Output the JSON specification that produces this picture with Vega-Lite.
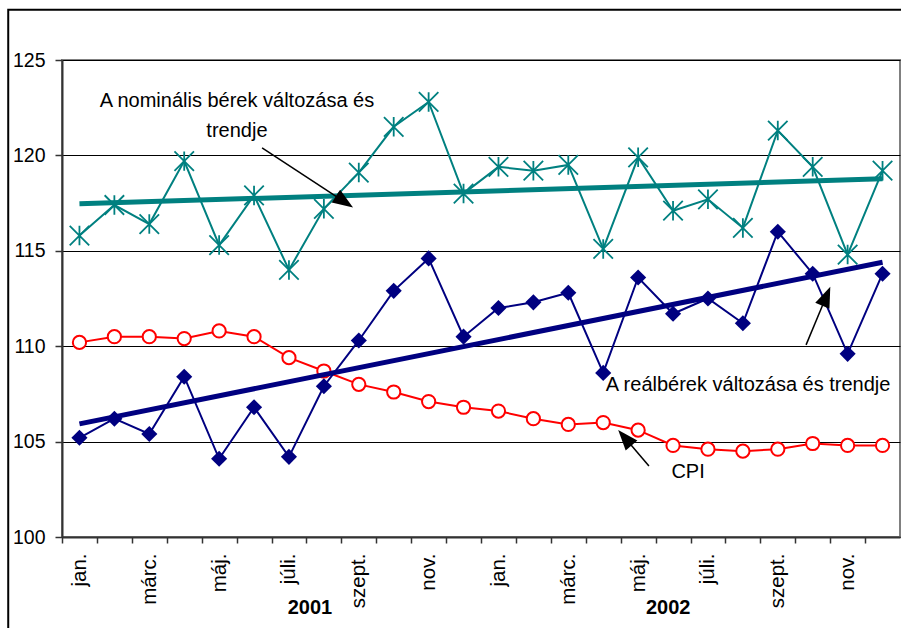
{
  "$schema": "https://vega.github.io/schema/vega-lite/v6.json",
  "width": 838,
  "height": 477,
  "autosize": "none",
  "padding": {"left": 62, "top": 60, "right": 1, "bottom": 91},
  "background": "white",
  "config": {
    "font": "Liberation Sans",
    "view": {"stroke": "#808080", "strokeWidth": 2},
    "axis": {"gridColor": "#000000", "gridWidth": 1, "labelColor": "#000000", "labelFont": "Liberation Sans", "labelFontSize": 19.5, "domainColor": "#333333", "domainWidth": 2, "tickColor": "#333333", "tickWidth": 1.5}
  },
  "datasets": {
    "series": [
      {"m": 1, "s": "nom", "v": 115.8}, {"m": 2, "s": "nom", "v": 117.4}, {"m": 3, "s": "nom", "v": 116.4}, {"m": 4, "s": "nom", "v": 119.7},
      {"m": 5, "s": "nom", "v": 115.3}, {"m": 6, "s": "nom", "v": 117.9}, {"m": 7, "s": "nom", "v": 114.0}, {"m": 8, "s": "nom", "v": 117.2},
      {"m": 9, "s": "nom", "v": 119.1}, {"m": 10, "s": "nom", "v": 121.5}, {"m": 11, "s": "nom", "v": 122.8}, {"m": 12, "s": "nom", "v": 118.0},
      {"m": 13, "s": "nom", "v": 119.4}, {"m": 14, "s": "nom", "v": 119.2}, {"m": 15, "s": "nom", "v": 119.5}, {"m": 16, "s": "nom", "v": 115.1},
      {"m": 17, "s": "nom", "v": 119.9}, {"m": 18, "s": "nom", "v": 117.1}, {"m": 19, "s": "nom", "v": 117.7}, {"m": 20, "s": "nom", "v": 116.2},
      {"m": 21, "s": "nom", "v": 121.3}, {"m": 22, "s": "nom", "v": 119.4}, {"m": 23, "s": "nom", "v": 114.8}, {"m": 24, "s": "nom", "v": 119.2},
      {"m": 1, "s": "real", "v": 105.2}, {"m": 2, "s": "real", "v": 106.2}, {"m": 3, "s": "real", "v": 105.4}, {"m": 4, "s": "real", "v": 108.4},
      {"m": 5, "s": "real", "v": 104.1}, {"m": 6, "s": "real", "v": 106.8}, {"m": 7, "s": "real", "v": 104.2}, {"m": 8, "s": "real", "v": 107.9},
      {"m": 9, "s": "real", "v": 110.3}, {"m": 10, "s": "real", "v": 112.9}, {"m": 11, "s": "real", "v": 114.6}, {"m": 12, "s": "real", "v": 110.5},
      {"m": 13, "s": "real", "v": 112.0}, {"m": 14, "s": "real", "v": 112.3}, {"m": 15, "s": "real", "v": 112.8}, {"m": 16, "s": "real", "v": 108.6},
      {"m": 17, "s": "real", "v": 113.6}, {"m": 18, "s": "real", "v": 111.7}, {"m": 19, "s": "real", "v": 112.5}, {"m": 20, "s": "real", "v": 111.2},
      {"m": 21, "s": "real", "v": 116.0}, {"m": 22, "s": "real", "v": 113.8}, {"m": 23, "s": "real", "v": 109.6}, {"m": 24, "s": "real", "v": 113.8},
      {"m": 1, "s": "cpi", "v": 110.2}, {"m": 2, "s": "cpi", "v": 110.5}, {"m": 3, "s": "cpi", "v": 110.5}, {"m": 4, "s": "cpi", "v": 110.4},
      {"m": 5, "s": "cpi", "v": 110.8}, {"m": 6, "s": "cpi", "v": 110.5}, {"m": 7, "s": "cpi", "v": 109.4}, {"m": 8, "s": "cpi", "v": 108.7},
      {"m": 9, "s": "cpi", "v": 108.0}, {"m": 10, "s": "cpi", "v": 107.6}, {"m": 11, "s": "cpi", "v": 107.1}, {"m": 12, "s": "cpi", "v": 106.8},
      {"m": 13, "s": "cpi", "v": 106.6}, {"m": 14, "s": "cpi", "v": 106.2}, {"m": 15, "s": "cpi", "v": 105.9}, {"m": 16, "s": "cpi", "v": 106.0},
      {"m": 17, "s": "cpi", "v": 105.6}, {"m": 18, "s": "cpi", "v": 104.8}, {"m": 19, "s": "cpi", "v": 104.6}, {"m": 20, "s": "cpi", "v": 104.5},
      {"m": 21, "s": "cpi", "v": 104.6}, {"m": 22, "s": "cpi", "v": 104.9}, {"m": 23, "s": "cpi", "v": 104.8}, {"m": 24, "s": "cpi", "v": 104.8}
    ],
    "trend": [
      {"m": 1, "s": "nom", "v": 117.46}, {"m": 24, "s": "nom", "v": 118.77},
      {"m": 1, "s": "real", "v": 105.93}, {"m": 24, "s": "real", "v": 114.4}
    ],
    "arrows": [
      {"a": "nom", "m": 6.23, "v": 120.4, "m2": 8.59, "v2": 117.57},
      {"a": "real", "m": 21.81, "v": 110.07, "m2": 22.39, "v2": 112.62},
      {"a": "cpi", "m": 17.31, "v": 103.72, "m2": 16.62, "v2": 105.2}
    ],
    "labels": [
      {"m": 5.51, "v": 122.86, "text": "A nominális bérek változása és"},
      {"m": 5.51, "v": 121.3, "text": "trendje"},
      {"m": 20.15, "v": 107.97, "text": "A reálbérek változása és trendje"},
      {"m": 18.43, "v": 103.41, "text": "CPI"}
    ],
    "years": [
      {"m": 7.6, "v": 96.28, "text": "2001"},
      {"m": 17.86, "v": 96.28, "text": "2002"}
    ],
    "frame": [
      {"m": -1.04, "v": 127.63, "m2": 30, "v2": 80}
    ]
  },
  "encoding": {
    "x": {
      "field": "m", "type": "quantitative",
      "scale": {"domain": [0.5, 24.5], "nice": false, "zero": false},
      "axis": {
        "title": null, "grid": false,
        "values": [0.5, 1.5, 2.5, 3.5, 4.5, 5.5, 6.5, 7.5, 8.5, 9.5, 10.5, 11.5, 12.5, 13.5, 14.5, 15.5, 16.5, 17.5, 18.5, 19.5, 20.5, 21.5, 22.5, 23.5],
        "labelExpr": "['jan.','','márc.','','máj.','','júli.','','szept.','','nov.',''][(datum.value - 0.5) % 12]",
        "labelAngle": -90, "labelOffset": 17.46, "tickSize": 6, "labelPadding": 10, "labelFontSize": 20.5,
        "labelFlush": false, "labelOverlap": false, "labelBound": false
      }
    },
    "y": {
      "field": "v", "type": "quantitative",
      "scale": {"domain": [100, 125], "nice": false, "zero": false},
      "axis": {"title": null, "values": [100, 105, 110, 115, 120, 125], "tickSize": 7, "labelPadding": 10, "grid": true}
    }
  },
  "layer": [
    {
      "data": {"name": "frame"},
      "mark": {"type": "rect", "fillOpacity": 0, "stroke": "#000000", "strokeWidth": 2},
      "encoding": {"x2": {"field": "m2"}, "y2": {"field": "v2"}}
    },
    {
      "data": {"name": "series"},
      "transform": [{"filter": "datum.s === 'cpi'"}],
      "mark": {"type": "line", "color": "#FF0000", "strokeWidth": 2}
    },
    {
      "data": {"name": "series"},
      "transform": [{"filter": "datum.s === 'cpi'"}],
      "mark": {"type": "point", "shape": "circle", "filled": true, "fill": "#FFFFFF", "fillOpacity": 1, "stroke": "#FF0000", "strokeWidth": 2, "size": 175, "opacity": 1}
    },
    {
      "data": {"name": "trend"},
      "transform": [{"filter": "datum.s === 'real'"}],
      "mark": {"type": "line", "color": "#000080", "strokeWidth": 5}
    },
    {
      "data": {"name": "series"},
      "transform": [{"filter": "datum.s === 'real'"}],
      "mark": {"type": "line", "color": "#000080", "strokeWidth": 2}
    },
    {
      "data": {"name": "series"},
      "transform": [{"filter": "datum.s === 'real'"}],
      "mark": {"type": "point", "shape": "diamond", "filled": true, "color": "#000080", "size": 260, "opacity": 1}
    },
    {
      "data": {"name": "series"},
      "transform": [{"filter": "datum.s === 'nom'"}],
      "mark": {"type": "line", "color": "#008080", "strokeWidth": 2}
    },
    {
      "data": {"name": "series"},
      "transform": [{"filter": "datum.s === 'nom'"}],
      "mark": {"type": "point", "shape": "M-1,-1L1,1M-1,1L1,-1M0,-1L0,1", "filled": false, "stroke": "#008080", "strokeWidth": 1.8, "size": 380, "opacity": 1}
    },
    {
      "data": {"name": "trend"},
      "transform": [{"filter": "datum.s === 'nom'"}],
      "mark": {"type": "line", "color": "#008080", "strokeWidth": 5}
    },
    {
      "data": {"name": "arrows"},
      "mark": {"type": "rule", "color": "#000000", "strokeWidth": 1.5},
      "encoding": {"x2": {"field": "m2"}, "y2": {"field": "v2"}}
    },
    {
      "data": {"name": "arrows"},
      "transform": [{"filter": "datum.a === 'nom'"}],
      "mark": {"type": "point", "shape": "M0,-1L0.75,1L-0.75,1Z", "filled": true, "color": "#000000", "size": 420, "angle": 123.3, "opacity": 1},
      "encoding": {"x": {"field": "m2", "type": "quantitative"}, "y": {"field": "v2", "type": "quantitative"}}
    },
    {
      "data": {"name": "arrows"},
      "transform": [{"filter": "datum.a === 'real'"}],
      "mark": {"type": "point", "shape": "M0,-1L0.75,1L-0.75,1Z", "filled": true, "color": "#000000", "size": 420, "angle": 22.8, "opacity": 1},
      "encoding": {"x": {"field": "m2", "type": "quantitative"}, "y": {"field": "v2", "type": "quantitative"}}
    },
    {
      "data": {"name": "arrows"},
      "transform": [{"filter": "datum.a === 'cpi'"}],
      "mark": {"type": "point", "shape": "M0,-1L0.75,1L-0.75,1Z", "filled": true, "color": "#000000", "size": 420, "angle": 319.4, "opacity": 1},
      "encoding": {"x": {"field": "m2", "type": "quantitative"}, "y": {"field": "v2", "type": "quantitative"}}
    },
    {
      "data": {"name": "labels"},
      "mark": {"type": "text", "fontSize": 20, "color": "#000000", "align": "center", "baseline": "middle"},
      "encoding": {"text": {"field": "text"}}
    },
    {
      "data": {"name": "years"},
      "mark": {"type": "text", "fontSize": 20, "fontWeight": "bold", "color": "#000000", "align": "center", "baseline": "middle"},
      "encoding": {"text": {"field": "text"}}
    }
  ]
}
